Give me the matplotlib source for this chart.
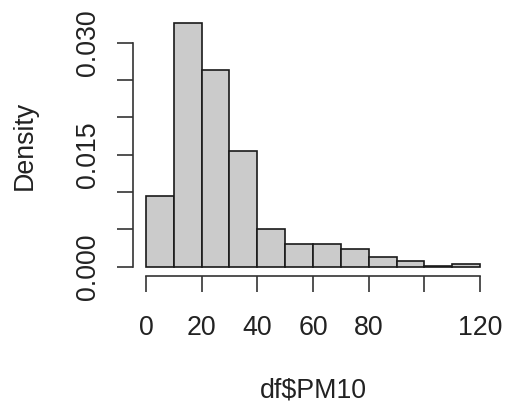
import numpy as np
import matplotlib
matplotlib.use('Agg')
import matplotlib.pyplot as plt

# histogram of df$PM10, bins of width 10 (density scale)
breaks = [0, 10, 20, 30, 40, 50, 60, 70, 80, 90, 100, 110, 120]
density = [0.0095, 0.0326, 0.0263, 0.0155, 0.0051, 0.0031, 0.0031,
           0.0024, 0.0013, 0.0007, 0.0001, 0.0004]
xticks = [0, 20, 40, 60, 80, 100, 120]
xticklabels = ['0', '20', '40', '60', '80', '', '120']
yticks = [0.0, 0.005, 0.010, 0.015, 0.020, 0.025, 0.030]
yticklabels = ['0.000', '', '', '0.015', '', '', '0.030']

plt.rcParams['font.family'] = ['Liberation Sans', 'DejaVu Sans']
fs = 19.3

W, H = 505, 405
fig = plt.figure(figsize=(W / 100, H / 100), dpi=100)
# plot region in pixels (R adds 4% on each side of the data range)
left, right, top, bottom = 132.6, 493.4, 13.6, 276.4
ax = fig.add_axes([left / W, 1 - bottom / H, (right - left) / W, (bottom - top) / H])

edges = np.array(breaks)
ax.bar(edges[:-1], density, width=np.diff(edges), align='edge',
       color='#cbcbcb', edgecolor='#1a1a1a', linewidth=1.2)

ax.set_xlim(-4.8, 124.8)
ax.set_ylim(-0.0013, 0.0339)

for s in ['top', 'right']:
    ax.spines[s].set_visible(False)
ax.spines['left'].set_bounds(0, 0.030)
ax.spines['bottom'].set_bounds(0, 120)
for s in ['left', 'bottom']:
    ax.spines[s].set_linewidth(1.2)
    ax.spines[s].set_color('#333333')

ax.set_xticks(xticks)
ax.set_xticklabels(xticklabels, fontsize=fs, color='#222222')
ax.set_yticks(yticks)
ax.set_yticklabels(yticklabels, fontsize=fs, color='#222222',
                   rotation=90, va='center')
ax.tick_params(axis='both', length=11.5, width=1.2, color='#333333')
ax.tick_params(axis='x', pad=16)
ax.tick_params(axis='y', pad=11)

fig.text(25 / W, 1 - 145 / H, 'Density', rotation=90, fontsize=fs,
         ha='center', va='center', color='#222222')
fig.text(313 / W, 1 - 390 / H, 'df$PM10', fontsize=fs,
         ha='center', va='center', color='#222222')

fig.savefig('out.png', dpi=100)
